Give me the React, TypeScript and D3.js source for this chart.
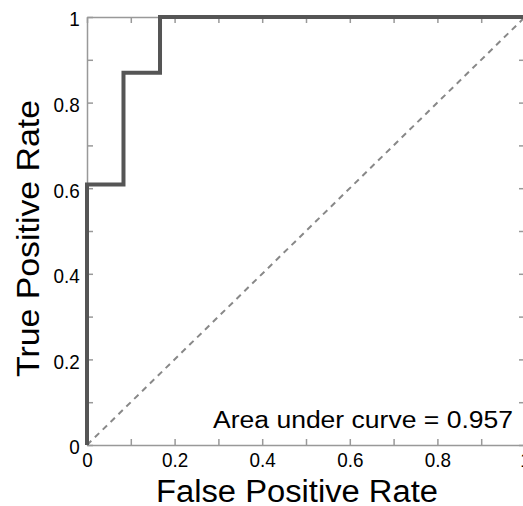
import { useEffect, useRef } from 'react';
import * as d3 from 'd3';

// ROC curve points (false positive rate, true positive rate)
const fpr = [0, 0, 0.0833, 0.0833, 0.1667, 0.1667, 1];
const tpr = [0, 0.6087, 0.6087, 0.8696, 0.8696, 1, 1];
const tickValues = [0, 0.1, 0.2, 0.3, 0.4, 0.5, 0.6, 0.7, 0.8, 0.9, 1];
const labelledTicks = [0, 0.2, 0.4, 0.6, 0.8, 1];
const aucText = 'Area under curve = 0.957';
const xTitle = 'False Positive Rate';
const yTitle = 'True Positive Rate';

const App = () => {
  const svgRef = useRef<SVGSVGElement>(null);

  useEffect(() => {
    const W = 523;
    const H = 506;
    const left = 87, right = 525, top = 17, bottom = 445;
    const font = 'Liberation Sans, Arial, sans-serif';
    const axisColor = '#999';

    const svg = d3.select(svgRef.current).attr('width', W).attr('height', H);
    svg.selectAll('*').remove();

    const x = d3.scaleLinear().domain([0, 1]).range([left, right]);
    const y = d3.scaleLinear().domain([0, 1]).range([bottom, top]);

    const fmt = (d: any) => (labelledTicks.some(t => Math.abs(t - d) < 1e-9) ? d3.format('~g')(d) : '');

    const styleAxis = (g: any) => {
      g.selectAll('path.domain').attr('stroke', axisColor).attr('stroke-width', 1.5);
      g.selectAll('.tick line').attr('stroke', axisColor).attr('stroke-width', 1.5);
      g.selectAll('.tick text')
        .attr('fill', '#000')
        .attr('transform', 'scale(0.9,1)')
        .style('font-family', font)
        .style('font-size', '21px');
    };

    // bottom axis
    svg.append('g')
      .attr('transform', `translate(0,${bottom})`)
      .call(d3.axisBottom(x).tickValues(tickValues).tickFormat(fmt).tickSizeInner(-6).tickSizeOuter(0).tickPadding(7))
      .call(styleAxis);

    // left axis
    svg.append('g')
      .attr('transform', `translate(${left},0)`)
      .call(d3.axisLeft(y).tickValues(tickValues).tickFormat(fmt).tickSizeInner(-6).tickSizeOuter(0).tickPadding(8))
      .call(styleAxis)
      .selectAll('.tick text')
      .attr('dy', '0.42em');

    // top and right axes (no labels)
    svg.append('g')
      .attr('transform', `translate(0,${top})`)
      .call(d3.axisTop(x).tickValues(tickValues).tickFormat(() => '').tickSizeInner(-6).tickSizeOuter(0))
      .call(styleAxis);
    svg.append('g')
      .attr('transform', `translate(${right},0)`)
      .call(d3.axisRight(y).tickValues(tickValues).tickFormat(() => '').tickSizeInner(-6).tickSizeOuter(0))
      .call(styleAxis);

    // chance diagonal
    svg.append('path')
      .datum([0, 1])
      .attr('d', d3.line<number>().x(d => x(d)).y(d => y(d)))
      .attr('fill', 'none')
      .attr('stroke', '#888')
      .attr('stroke-width', 2)
      .attr('stroke-dasharray', '6,5');

    // ROC curve
    const pts = fpr.map((f, i) => [f, tpr[i]] as [number, number]);
    svg.append('path')
      .datum(pts)
      .attr('d', d3.line<[number, number]>().x(d => x(d[0])).y(d => y(d[1])))
      .attr('fill', 'none')
      .attr('stroke', '#555')
      .attr('stroke-width', 4);

    // AUC annotation
    svg.append('text')
      .attr('x', 213)
      .attr('y', 428)
      .attr('textLength', 300)
      .attr('lengthAdjust', 'spacingAndGlyphs')
      .style('font-family', font)
      .style('font-size', '23px')
      .text(aucText);

    // axis titles
    svg.append('text')
      .attr('x', 156)
      .attr('y', 502)
      .attr('textLength', 282)
      .attr('lengthAdjust', 'spacingAndGlyphs')
      .style('font-family', font)
      .style('font-size', '31px')
      .text(xTitle);

    svg.append('text')
      .attr('transform', `translate(39,377) rotate(-90)`)
      .attr('textLength', 277)
      .attr('lengthAdjust', 'spacingAndGlyphs')
      .style('font-family', font)
      .style('font-size', '32px')
      .text(yTitle);
  }, []);

  return (
    <div style={{ position: 'absolute', left: 0, top: 0, width: 523, height: 506, overflow: 'hidden', background: '#fff' }}>
      <svg ref={svgRef} style={{ display: 'block' }}></svg>
    </div>
  );
};

export default App;
